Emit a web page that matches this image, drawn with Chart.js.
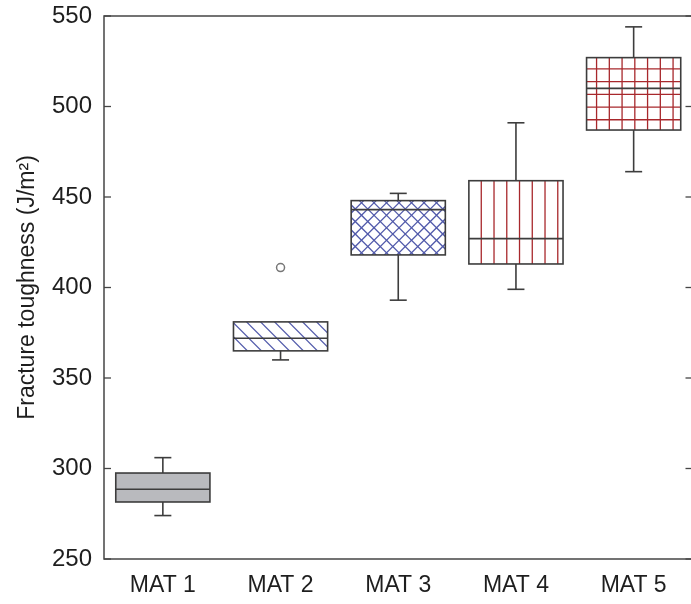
<!DOCTYPE html>
<html>
<head>
<meta charset="utf-8">
<script src="https://cdn.jsdelivr.net/npm/chart.js@4.4.1/dist/chart.umd.min.js"></script>
<style>
  html, body { margin: 0; padding: 0; background: #fff; overflow: hidden; }
  #marco { width: 691px; height: 604px; overflow: hidden; position: relative; }
  canvas { display: block; }
</style>
</head>
<body>
<div id="marco">
  <canvas id="grafico" width="698" height="604"></canvas>
</div>
<script>
// Datos de cada caja (J/m2)
const materiales = ["MAT 1", "MAT 2", "MAT 3", "MAT 4", "MAT 5"];
const minimos  = [274, 360, 393, 399, 464];
const cuartil1 = [281.5, 365, 418, 413, 487];
const medianas = [288.5, 372, 443, 427, 510];
const cuartil3 = [297.5, 381, 448, 459, 527];
const maximos  = [306, 381, 452, 491, 544];
const atipicos = [null, 411, null, null, null];
const ticksY   = [250, 300, 350, 400, 450, 500, 550];

// Relleno de cada caja
const patrones = ["solido", "diagonal", "rombos", "verticales", "rejilla"];
const azul = "#5059aa";
const rojo = "#a8282c";
const gris = "#b9babe";
const trazo = "#3d3d3d";

function linea(ctx, xa, ya, xb, yb) {
  ctx.beginPath();
  ctx.moveTo(xa, ya);
  ctx.lineTo(xb, yb);
  ctx.stroke();
}

// Rayado dentro de la caja
function rayar(ctx, x0, y0, x1, y1, patron) {
  const alto = y1 - y0;
  ctx.save();
  ctx.beginPath();
  ctx.rect(x0, y0, x1 - x0, alto);
  ctx.clip();
  ctx.lineWidth = 1.3;
  if (patron === "diagonal") {
    ctx.strokeStyle = azul;
    for (let d = x0 - alto; d < x1; d += 14) linea(ctx, d, y0, d + alto, y1);
  }
  if (patron === "rombos") {
    ctx.strokeStyle = azul;
    for (let d = x0 - alto; d < x1 + alto; d += 12.5) {
      linea(ctx, d, y0, d + alto, y1);
      linea(ctx, d, y1, d + alto, y0);
    }
  }
  if (patron === "verticales") {
    ctx.strokeStyle = rojo;
    for (let x = x0 + 12.4; x < x1 - 2; x += 12.75) linea(ctx, x, y0, x, y1);
  }
  if (patron === "rejilla") {
    ctx.strokeStyle = rojo;
    for (let x = x0 + 10; x < x1 - 2; x += 12.75) linea(ctx, x, y0, x, y1);
    for (let y = y0 + 11.3; y < y1 - 2; y += 12.7) linea(ctx, x0, y, x1, y);
  }
  ctx.restore();
}

// Rayados, bordes, medianas, bigotes y marco
const pluginCajas = {
  id: "cajas",
  afterDatasetsDraw(chart) {
    const ctx = chart.ctx;
    const escalaY = chart.scales.y;
    const barras = chart.getDatasetMeta(0).data;

    barras.forEach((barra, i) => {
      const ancho = barra.width;
      const x0 = barra.x - ancho / 2;
      const x1 = barra.x + ancho / 2;
      const yTop = escalaY.getPixelForValue(cuartil3[i]);
      const yBot = escalaY.getPixelForValue(cuartil1[i]);

      rayar(ctx, x0, yTop, x1, yBot, patrones[i]);

      ctx.save();
      ctx.strokeStyle = trazo;
      ctx.lineWidth = 1.6;
      ctx.strokeRect(x0, yTop, ancho, yBot - yTop);

      const yMed = escalaY.getPixelForValue(medianas[i]);
      linea(ctx, x0, yMed, x1, yMed);

      const medioCap = 8.5;
      if (maximos[i] > cuartil3[i]) {
        const yMax = escalaY.getPixelForValue(maximos[i]);
        linea(ctx, barra.x, yTop, barra.x, yMax);
        linea(ctx, barra.x - medioCap, yMax, barra.x + medioCap, yMax);
      }
      if (minimos[i] < cuartil1[i]) {
        const yMin = escalaY.getPixelForValue(minimos[i]);
        linea(ctx, barra.x, yBot, barra.x, yMin);
        linea(ctx, barra.x - medioCap, yMin, barra.x + medioCap, yMin);
      }
      ctx.restore();
    });

    // Marco y marcas hacia dentro
    const area = chart.chartArea;
    ctx.save();
    ctx.strokeStyle = "#454545";
    ctx.lineWidth = 1.5;
    ctx.strokeRect(area.left, area.top, area.right - area.left, area.bottom - area.top);
    ctx.lineWidth = 1.3;
    ticksY.forEach(v => {
      const y = escalaY.getPixelForValue(v);
      linea(ctx, area.left, y, area.left + 7, y);
      linea(ctx, area.right - 7, y, area.right, y);
    });
    ctx.restore();
  }
};

const ctx = document.getElementById("grafico").getContext("2d");
const familia = "'Liberation Sans', Arial, sans-serif";

new Chart(ctx, {
  type: "bar",
  data: {
    labels: materiales,
    datasets: [
      {
        data: cuartil1.map((q, i) => [q, cuartil3[i]]),
        backgroundColor: patrones.map(p => p === "solido" ? gris : "#ffffff"),
        borderWidth: 0,
        barPercentage: 0.8,
        categoryPercentage: 1.0
      },
      {
        type: "line",
        data: atipicos,
        showLine: false,
        pointRadius: 4,
        pointBorderWidth: 1.5,
        pointBorderColor: "#777777",
        pointBackgroundColor: "#ffffff"
      }
    ]
  },
  options: {
    responsive: false,
    animation: false,
    layout: { padding: { top: 16, right: 1, left: 0, bottom: 0 } },
    plugins: {
      legend: { display: false },
      tooltip: { enabled: false }
    },
    scales: {
      x: {
        grid: { display: false, drawTicks: false },
        border: { display: false },
        ticks: { color: "#1e1e1e", font: { family: familia, size: 23 }, padding: 13 },
        afterFit: escala => {
          escala.height = 45;
          escala.paddingLeft = 0;
          escala.paddingRight = 0;
        }
      },
      y: {
        min: 250,
        max: 550,
        grid: { display: false, drawTicks: false },
        border: { display: false },
        ticks: {
          color: "#1e1e1e",
          font: { family: familia, size: 24 },
          padding: 12,
          stepSize: 50,
          callback: v => ticksY.includes(v) ? v : ""
        },
        title: {
          display: true,
          text: "Fracture toughness (J/m²)",
          color: "#1e1e1e",
          font: { family: familia, size: 23 },
          padding: { top: 14, bottom: 0 }
        },
        afterFit: escala => {
          escala.width = 104;
          escala.paddingTop = 0;
          escala.paddingBottom = 0;
        }
      }
    }
  },
  plugins: [pluginCajas]
});
</script>
</body>
</html>
